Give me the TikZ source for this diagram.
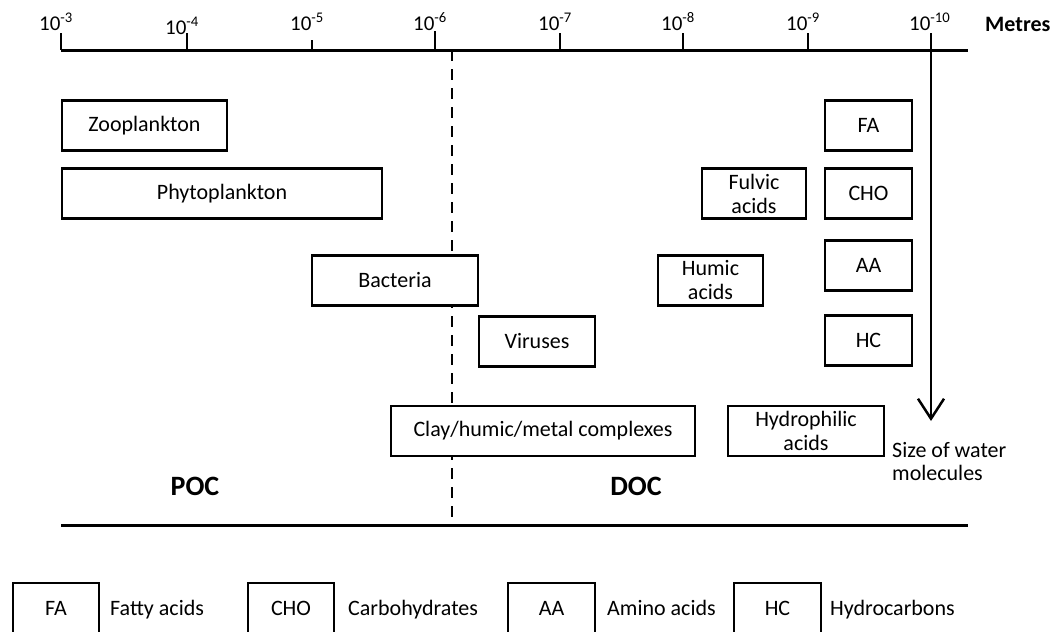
\documentclass[tikz,border=0pt]{standalone}
\usepackage{fontspec}
\setmainfont{Carlito}
\usetikzlibrary{arrows.meta}
\begin{document}
\begin{tikzpicture}[x=1pt,y=-1pt,
  box/.style={draw, line width=2.5pt, fill=white, inner sep=0pt, minimum height=50pt,
    font=\fontsize{22}{24}\selectfont, align=center},
  bigline/.style={line width=3pt},
  tickmark/.style={line width=2.5pt},
  ticklab/.style={anchor=base west, inner sep=0pt, font=\fontsize{21}{24}\selectfont},
  boldlab/.style={inner sep=0pt, font=\bfseries\fontsize{28}{30}\selectfont},
  plainlab/.style={inner sep=0pt, font=\fontsize{22}{23}\selectfont},
  dashline/.style={line width=2.5pt, dash pattern=on 11pt off 8pt}]
\useasboundingbox (0,0) rectangle (1061,632);
\clip (0,0) rectangle (1061,632);

% axis lines
\coordinate (axL) at (61,50);
\coordinate (axR) at (968,50);
\coordinate (bL) at (61,525);
\coordinate (bR) at (968,525);
\draw[bigline] (axL) -- (axR);
\draw[bigline] (bL) -- (bR);

% dashed divider
\coordinate (dT) at (452,50);
\coordinate (dB) at (452,525);
\draw[dashline] (dT) -- (dB);

% ticks and labels
\foreach \x/\e/\yb/\yt in {61/3/30/33, 187/4/34/33, 312/5/30/40, 435/6/30/31, 560/7/30/33, 683/8/30/33, 808/9/30/33}{
  \coordinate (t\e a) at (\x,\yt);
  \coordinate (t\e b) at (\x,50);
  \draw[tickmark] (t\e a) -- (t\e b);
  \node[ticklab] (lab\e) at (\x-22,\yb) {10\textsuperscript{-\e}};
}
\node[ticklab] (lab10) at (909,30) {10\textsuperscript{-10}};
\node[anchor=base west, inner sep=0pt, font=\bfseries\fontsize{22}{24}\selectfont] (metres) at (985,31) {Metres};

% arrow for water molecules
\coordinate (arT) at (931,33);
\coordinate (arB) at (931,421);
\draw[tickmark, -{Straight Barb[length=20pt,width=26pt]}] (arT) -- (arB);
\node[plainlab, anchor=north west, align=left] (water) at (892,442) {Size of water\\molecules};

% boxes
\node[box, minimum width=165pt] (zoo) at (144.5,125.5) {Zooplankton};
\node[box, minimum width=320pt] (phyto) at (222,193.5) {Phytoplankton};
\node[box, minimum width=166pt] (bact) at (395,280.5) {Bacteria};
\node[box, minimum width=116pt] (vir) at (537,341.5) {Viruses};
\node[box, minimum width=304pt] (clay) at (543,431) {Clay/humic/metal complexes};
\node[box, minimum width=104pt, font=\fontsize{22}{24}\selectfont] (fulvic) at (754,193.5) {Fulvic\\acids};
\node[box, minimum width=105pt] (humic) at (710.5,280.5) {Humic\\acids};
\node[box, minimum width=156pt] (hydro) at (806,431) {Hydrophilic\\acids};
\node[box, minimum width=87pt] (fa) at (868.5,125.5) {FA};
\node[box, minimum width=87pt] (cho) at (868.5,193.5) {CHO};
\node[box, minimum width=87pt] (aa) at (868.5,265.5) {AA};
\node[box, minimum width=87pt] (hc) at (868.5,340.5) {HC};

% POC / DOC
\node[boldlab, anchor=base] (poc) at (195,495) {POC};
\node[boldlab, anchor=base] (doc) at (636,495) {DOC};

% legend
\node[box, minimum width=86pt] (lfa) at (56,608) {FA};
\node[plainlab, anchor=base west] (lfat) at (110,615) {Fatty acids};
\node[box, minimum width=86pt] (lcho) at (291,608) {CHO};
\node[plainlab, anchor=base west] (lchot) at (348,615) {Carbohydrates};
\node[box, minimum width=87pt] (laa) at (551.5,608) {AA};
\node[plainlab, anchor=base west] (laat) at (607,615) {Amino acids};
\node[box, minimum width=87pt] (lhc) at (777.5,608) {HC};
\node[plainlab, anchor=base west] (lhct) at (830,615) {Hydrocarbons};
\end{tikzpicture}
\end{document}
